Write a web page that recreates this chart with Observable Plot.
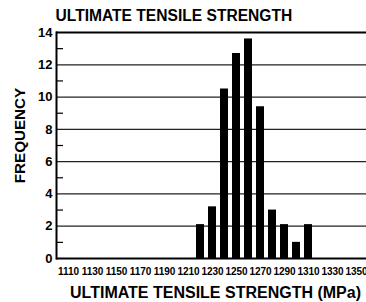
<!DOCTYPE html>
<html>
<head>
<meta charset="utf-8">
<script src="https://cdn.jsdelivr.net/npm/d3@7"></script>
<script src="https://cdn.jsdelivr.net/npm/@observablehq/plot@0.6"></script>
<style>
  html, body { margin: 0; padding: 0; background: #fff; }
  #chart svg { display: block; }
</style>
</head>
<body>
<div id="chart"></div>
<script>
// Data
const bins = [1110,1120,1130,1140,1150,1160,1170,1180,1190,1200,1210,1220,1230,1240,1250,1260,1270,1280,1290,1300,1310,1320,1330,1340,1350];
const xTickValues = [1110,1130,1150,1170,1190,1210,1230,1250,1270,1290,1310,1330,1350];
const strengthMPa = [1220,1230,1240,1250,1260,1270,1280,1290,1300,1310];
const frequency = [2.1,3.2,10.5,12.7,13.6,9.4,3.0,2.1,1.0,2.1];
const yMajorTicks = [0,2,4,6,8,10,12,14];
const yMinorTicks = [1,3,5,7,9,11,13];
const titleText = ["ULTIMATE TENSILE STRENGTH"];
const xTitle = ["ULTIMATE TENSILE STRENGTH (MPa)"];
const yTitle = ["FREQUENCY"];

const rows = strengthMPa.map((m, i) => ({mpa: m, freq: frequency[i]}));

const bold = "'Liberation Sans', Arial, Helvetica, sans-serif";
const narrow = "'Liberation Sans Narrow', 'Arial Narrow', 'Liberation Sans', sans-serif";

const chart = Plot.plot({
  width: 366,
  height: 302,
  marginLeft: 56,
  marginRight: 0,
  marginTop: 32,
  marginBottom: 44,
  style: {fontFamily: bold, color: "#000", background: "#fff"},
  x: {type: "band", domain: bins, range: [57.5, 365.5], paddingInner: 0.36, paddingOuter: 0, axis: null, label: null},
  y: {domain: [0, 14], axis: null, label: null},
  marks: [
    Plot.ruleY(yMajorTicks.filter(d => d > 0 && d < 14), {y: d => d, stroke: "#222", strokeWidth: 1.2}),
    Plot.barY(rows, {x: "mpa", y: "freq", fill: "#000"}),
    Plot.ruleY([0, 14], {y: d => d, stroke: "#000", strokeWidth: 2}),
    Plot.frame({anchor: "left", stroke: "#000", strokeWidth: 2}),
    Plot.axisY({ticks: yMinorTicks, tickSize: 6, dx: 7, tickFormat: () => "", label: null, strokeWidth: 1.2}),
    Plot.axisY({ticks: yMajorTicks, tickSize: 0, tickPadding: 4, tickFormat: "d", label: null, fontSize: 13, fontWeight: "bold", fontFamily: bold, fill: "#000"}),
    Plot.axisX({ticks: xTickValues, tickSize: 0, tickPadding: 9, tickFormat: "d", label: null, fontSize: 10, fontWeight: "bold", fontFamily: narrow, fill: "#000"}),
    Plot.text(titleText, {text: d => d, frameAnchor: "top-left", textAnchor: "start", lineAnchor: "middle", dx: -1, dy: -16.5, fontSize: 15.6, fontWeight: "bold", fontFamily: bold, fill: "#000"}),
    Plot.text(xTitle, {text: d => d, frameAnchor: "bottom", textAnchor: "middle", lineAnchor: "middle", dx: 4, dy: 34, fontSize: 16, fontWeight: "bold", fontFamily: bold, fill: "#000"}),
    Plot.text(yTitle, {text: d => d, frameAnchor: "left", textAnchor: "middle", lineAnchor: "middle", rotate: -90, dx: -36, dy: -10, fontSize: 15.2, fontWeight: "bold", fontFamily: bold, fill: "#000"})
  ]
});
document.getElementById("chart").appendChild(chart);
</script>
</body>
</html>
